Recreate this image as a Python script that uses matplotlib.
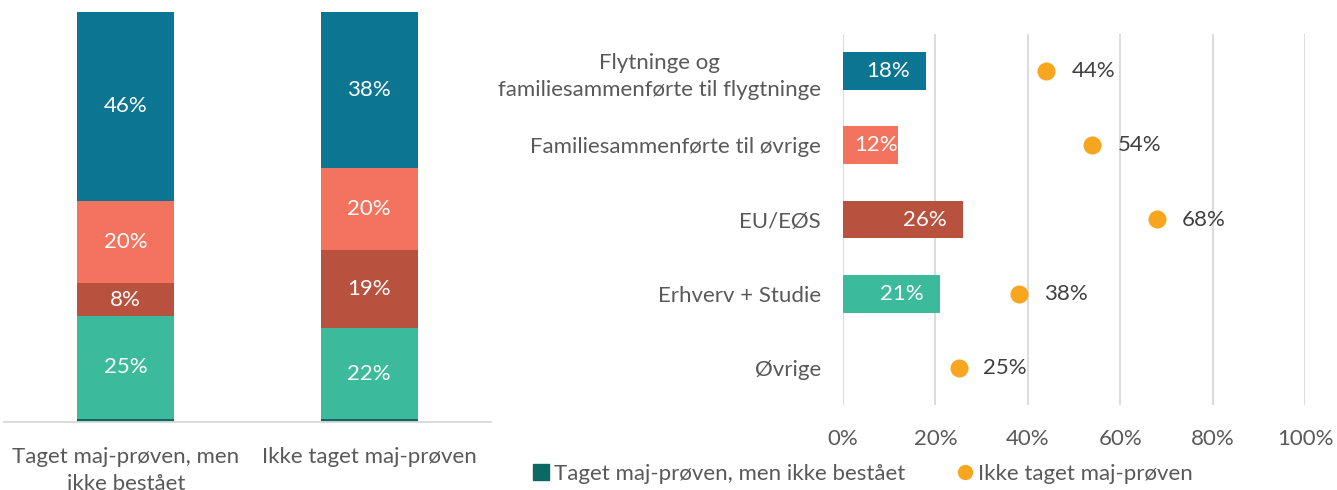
import matplotlib
matplotlib.use("Agg")
import matplotlib.pyplot as plt
from matplotlib.lines import Line2D

plt.rcParams['font.family'] = ['Lato', 'DejaVu Sans']

# ---- Left chart data (stacked columns) ----
left_groups = ["Taget maj-prøven, men\nikke bestået", "Ikke taget maj-prøven"]
seg_dark = [0.8, 0.8]
seg_green = [25, 22]
seg_brown = [8, 19]
seg_salmon = [20, 20]
seg_teal = [46, 38]

# ---- Right chart data ----
categories = ["Flytninge og\nfamiliesammenførte til flygtninge",
              "Familiesammenførte til øvrige",
              "EU/EØS",
              "Erhverv + Studie",
              "Øvrige"]
bar_values = [18, 12, 26, 21, None]
dot_values = [44, 54, 68, 38, 25]
x_ticks = [0, 20, 40, 60, 80, 100]

legend_labels = ["Taget maj-prøven, men ikke bestået", "Ikke taget maj-prøven"]

C_TEAL = "#0B7592"
C_SALMON = "#F4735F"
C_BROWN = "#B8523F"
C_GREEN = "#3BBB9B"
C_DARK = "#0D6863"
C_ORANGE = "#F8A61F"
C_GRID = "#D9D9D9"
C_TXT = "#595959"
C_TXT2 = "#404040"
FS = 16

W, H = 1337, 490
fig = plt.figure(figsize=(W / 100, H / 100), dpi=100)

# ---------- Left axes ----------
axL = fig.add_axes([4 / W, (H - 422) / H, (491 - 4) / W, (422 - 12) / H])
x = [0, 1]
segs = [(seg_dark, C_DARK, False), (seg_green, C_GREEN, True), (seg_brown, C_BROWN, True),
        (seg_salmon, C_SALMON, True), (seg_teal, C_TEAL, True)]
bottom = [0, 0]
for vals, col, lab in segs:
    axL.bar(x, vals, width=0.4, bottom=bottom, color=col, linewidth=0)
    if lab:
        for xi, v, b in zip(x, vals, bottom):
            axL.text(xi, b + v / 2, f"{v}%", ha="center", va="center",
                     color="white", fontsize=FS)
    bottom = [b + v for b, v in zip(bottom, vals)]
axL.set_xlim(-0.5, 1.5)
axL.set_ylim(0, max(bottom))
axL.set_yticks([])
axL.set_xticks(x)
axL.set_xticklabels(left_groups, fontsize=FS, color=C_TXT, linespacing=1.45)
axL.tick_params(axis="x", length=0, pad=18)
for s in ["top", "right", "left"]:
    axL.spines[s].set_visible(False)
axL.spines["bottom"].set_color(C_GRID)
axL.spines["bottom"].set_linewidth(1.3)

# ---------- Right axes ----------
axR = fig.add_axes([843 / W, (H - 405) / H, (1305 - 843) / W, (405 - 34) / H])
ypos = list(range(len(categories)))
bar_cols = [C_TEAL, C_SALMON, C_BROWN, C_GREEN, C_TEAL]
for yi, v, col in zip(ypos, bar_values, bar_cols):
    if v is None:
        continue
    axR.barh(yi, v, height=0.51, color=col, linewidth=0, zorder=2)
    off = -16 if v >= 15 else -1
    axR.annotate(f"{v}%", xy=(v, yi), xytext=(off * 0.72, 0), textcoords="offset points",
                 ha="right", va="center", color="white", fontsize=FS, zorder=3)
axR.plot(dot_values, ypos, linestyle="none", marker="o", markersize=13,
         color=C_ORANGE, markeredgewidth=0, zorder=3)
for yi, v in zip(ypos, dot_values):
    axR.annotate(f"{v}%", xy=(v, yi), xytext=(25 * 0.72, 0), textcoords="offset points",
                 ha="left", va="center", color=C_TXT2, fontsize=FS)
axR.set_xlim(0, 100)
axR.set_ylim(len(categories) - 0.5, -0.5)
axR.set_xticks(x_ticks)
axR.set_xticklabels([f"{t}%" for t in x_ticks], fontsize=FS, color=C_TXT)
axR.set_yticks(ypos)
axR.set_yticklabels(categories, fontsize=FS, color=C_TXT, linespacing=1.45,
                    multialignment="center")
axR.tick_params(axis="both", length=0)
axR.tick_params(axis="x", pad=17)
axR.tick_params(axis="y", pad=16)
axR.grid(axis="x", color=C_GRID, linewidth=1.3, zorder=0)
axR.set_axisbelow(True)
for s in axR.spines.values():
    s.set_visible(False)

# ---------- Legend ----------
handles = [Line2D([0], [0], linestyle="none", marker="s", markersize=11, color=C_DARK),
           Line2D([0], [0], linestyle="none", marker="o", markersize=10, color=C_ORANGE)]
fig.legend(handles, legend_labels, loc="center left", bbox_to_anchor=(530 / W, 1 - 474 / H),
           ncol=2, frameon=False, fontsize=FS, labelcolor=C_TXT, handletextpad=0.1,
           columnspacing=2.15, handlelength=1.0, borderpad=0, borderaxespad=0)

fig.savefig("out.png", dpi=100)
